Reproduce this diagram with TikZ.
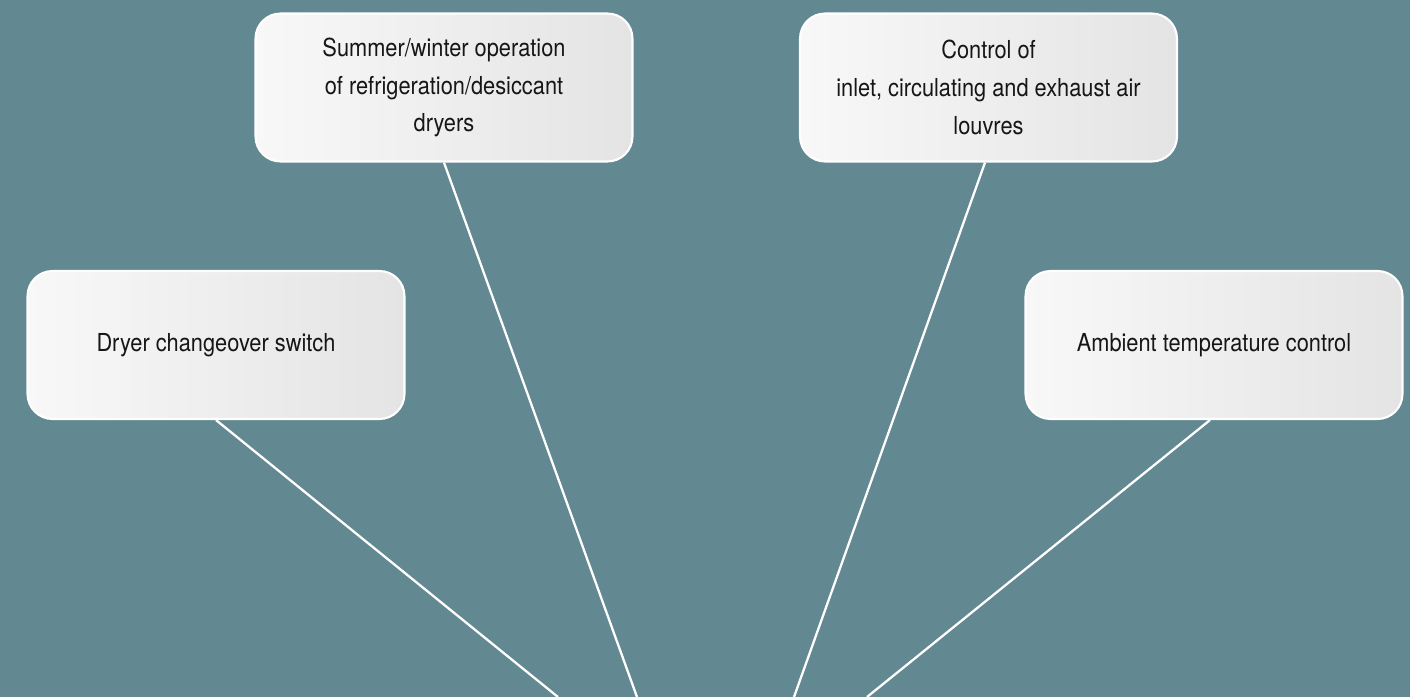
\documentclass[tikz,border=0pt]{standalone}
\usepackage{fontspec}
\setmainfont{TeX Gyre Heros}[FakeStretch=0.88]
\usetikzlibrary{positioning}

\definecolor{bgteal}{HTML}{628891}
\definecolor{boxleft}{HTML}{F8F8F8}
\definecolor{boxright}{HTML}{E4E4E4}
\definecolor{inktext}{HTML}{161616}

\tikzset{
  optbox/.style={rectangle, rounded corners=0.5cm, draw=white, line width=1.2pt,
    left color=boxleft, right color=boxright, minimum width=7.54cm, minimum height=2.96cm,
    align=center, text=inktext, font=\fontsize{14.1}{21.4}\selectfont},
  spoke/.style={white, line width=1.3pt}
}

\begin{document}
\begin{tikzpicture}[x=0.02cm,y=-0.02cm]
            \fill[bgteal] (0,0) rectangle (1410,697);
            \useasboundingbox (0,0) rectangle (1410,697);
            \clip (0,0) rectangle (1410,697);
            \node[optbox] (season) at (444,87.5) {Summer/winter operation\\of refrigeration/desiccant\\dryers};
            \node[optbox] (louvres) at (988.5,87.5) {Control of\\inlet, circulating and exhaust air\\louvres};
            \node[optbox] (switch) at (216,345) {Dryer changeover switch};
            \node[optbox] (ambient) at (1214,345) {Ambient temperature control};
            \coordinate (footA) at (558,697);
            \coordinate (footB) at (637,697);
            \coordinate (footC) at (794,697);
            \coordinate (footD) at (867,697);
            \draw[spoke] (switch.south) -- (footA);
            \draw[spoke] (season.south) -- (footB);
            \draw[spoke] ([xshift=-0.07cm]louvres.south) -- (footC);
            \draw[spoke] ([xshift=-0.08cm]ambient.south) -- (footD);
        \end{tikzpicture}
\end{document}
